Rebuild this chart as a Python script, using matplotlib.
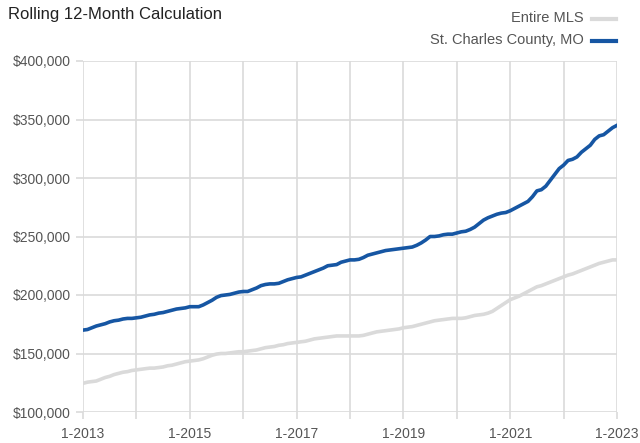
import matplotlib
matplotlib.use("Agg")
import matplotlib.pyplot as plt
from matplotlib.lines import Line2D
from matplotlib.ticker import FuncFormatter
import numpy as np

# Monthly values (thousands of $), Jan 2013 .. Jan 2023
st_charles = [
    170, 170.5, 172, 173.5, 174.5, 175.5, 177, 178, 178.5, 179.5, 180, 180,
    180.5, 181, 182, 183, 183.5, 184.5, 185, 186, 187, 188, 188.5, 189,
    190, 190, 190, 191.5, 193.5, 195.5, 198, 199.5, 200, 200.5, 201.5, 202.5,
    203, 203, 204.5, 206, 208, 209, 209.5, 209.5, 210, 211.5, 213, 214,
    215, 215.5, 217, 218.5, 220, 221.5, 223, 225, 225.5, 226, 228, 229,
    230, 230, 230.5, 232, 234, 235, 236, 237, 238, 238.5, 239, 239.5,
    240, 240.5, 241, 242.5, 244.5, 247, 250, 250, 250.5, 251.5, 252, 252,
    253, 254, 254.5, 256, 258, 261, 264, 266, 267.5, 269, 270, 270.5,
    272, 274, 276, 278, 280, 284, 289, 290, 293, 298, 303, 308,
    311, 315, 316, 318, 322, 325, 328, 333, 336, 337, 340, 343,
    345,
]
entire_mls = [
    124.5, 125.5, 126, 126.5, 128, 129.5, 130.5, 132, 133, 134, 134.5, 135.5,
    136, 136.5, 137, 137.5, 137.5, 138, 138.5, 139.5, 140, 141, 142, 143,
    143.5, 144, 144.5, 145.5, 147, 148.5, 149.5, 150, 150, 150.5, 151, 151.5,
    151.5, 152, 152.5, 153, 154, 155, 155.5, 156, 157, 157.5, 158.5, 159,
    159.5, 160, 160.5, 161.5, 162.5, 163, 163.5, 164, 164.5, 165, 165, 165,
    165, 165, 165, 165.5, 166.5, 167.5, 168.5, 169, 169.5, 170, 170.5, 171,
    172, 172.5, 173, 174, 175, 176, 177, 178, 178.5, 179, 179.5, 180,
    180, 180, 180.5, 181.5, 182.5, 183, 183.5, 184.5, 186, 188.5, 191, 193.5,
    196, 197.5, 199, 201, 203, 205, 207, 208, 209.5, 211, 212.5, 214,
    215.5, 217, 218, 219.5, 221, 222.5, 224, 225.5, 227, 228, 229, 230,
    230,
]
years = list(range(2013, 2024))
x_labels = [f"1-{y}" if (y - 2013) % 2 == 0 else "" for y in years]
y_ticks = [100000, 150000, 200000, 250000, 300000, 350000, 400000]

plt.rcParams['font.family'] = ["Liberation Sans", "DejaVu Sans"]

BLUE = "#1656a3"
GREY = "#dadada"
TXT = "#555555"

fig = plt.figure(figsize=(6.4, 4.43), dpi=100)
ax = fig.add_axes([83/640, 1 - 412/443, (617-83)/640, (412-61)/443])

x = np.arange(len(st_charles))
ax.plot(x, np.array(entire_mls) * 1000, color=GREY, lw=2.6, zorder=3)
ax.plot(x, np.array(st_charles) * 1000, color=BLUE, lw=2.6, zorder=4)

ax.set_xlim(0, 120)
ax.set_ylim(100000, 400000)
ax.set_xticks([12 * i for i in range(len(years))])
ax.set_xticklabels(x_labels)
ax.set_yticks(y_ticks)
ax.yaxis.set_major_formatter(FuncFormatter(lambda v, p: f"${v:,.0f}"))
ax.grid(True, color=GREY, lw=1.2, zorder=0)
for s in ax.spines.values():
    s.set_visible(False)
ax.tick_params(axis='both', colors=GREY, length=5, width=1.2, labelcolor=TXT, labelsize=10)
ax.tick_params(axis='x', pad=6)
ax.tick_params(axis='y', pad=4)

fig.text(8/640, 1 - 15/443, "Rolling 12-Month Calculation", fontsize=12, color="#222222",
         ha='left', va='center')
fig.text(584/640, 1 - 18/443, "Entire MLS", fontsize=10.5, color=TXT, ha='right', va='center')
fig.text(584/640, 1 - 40/443, "St. Charles County, MO", fontsize=10.5, color=TXT, ha='right', va='center')
fig.add_artist(Line2D([592/640, 616/640], [1 - 19/443] * 2, color=GREY, lw=3, transform=fig.transFigure))
fig.add_artist(Line2D([592/640, 616/640], [1 - 41/443] * 2, color=BLUE, lw=3, transform=fig.transFigure))

fig.savefig("out.png", dpi=100)
